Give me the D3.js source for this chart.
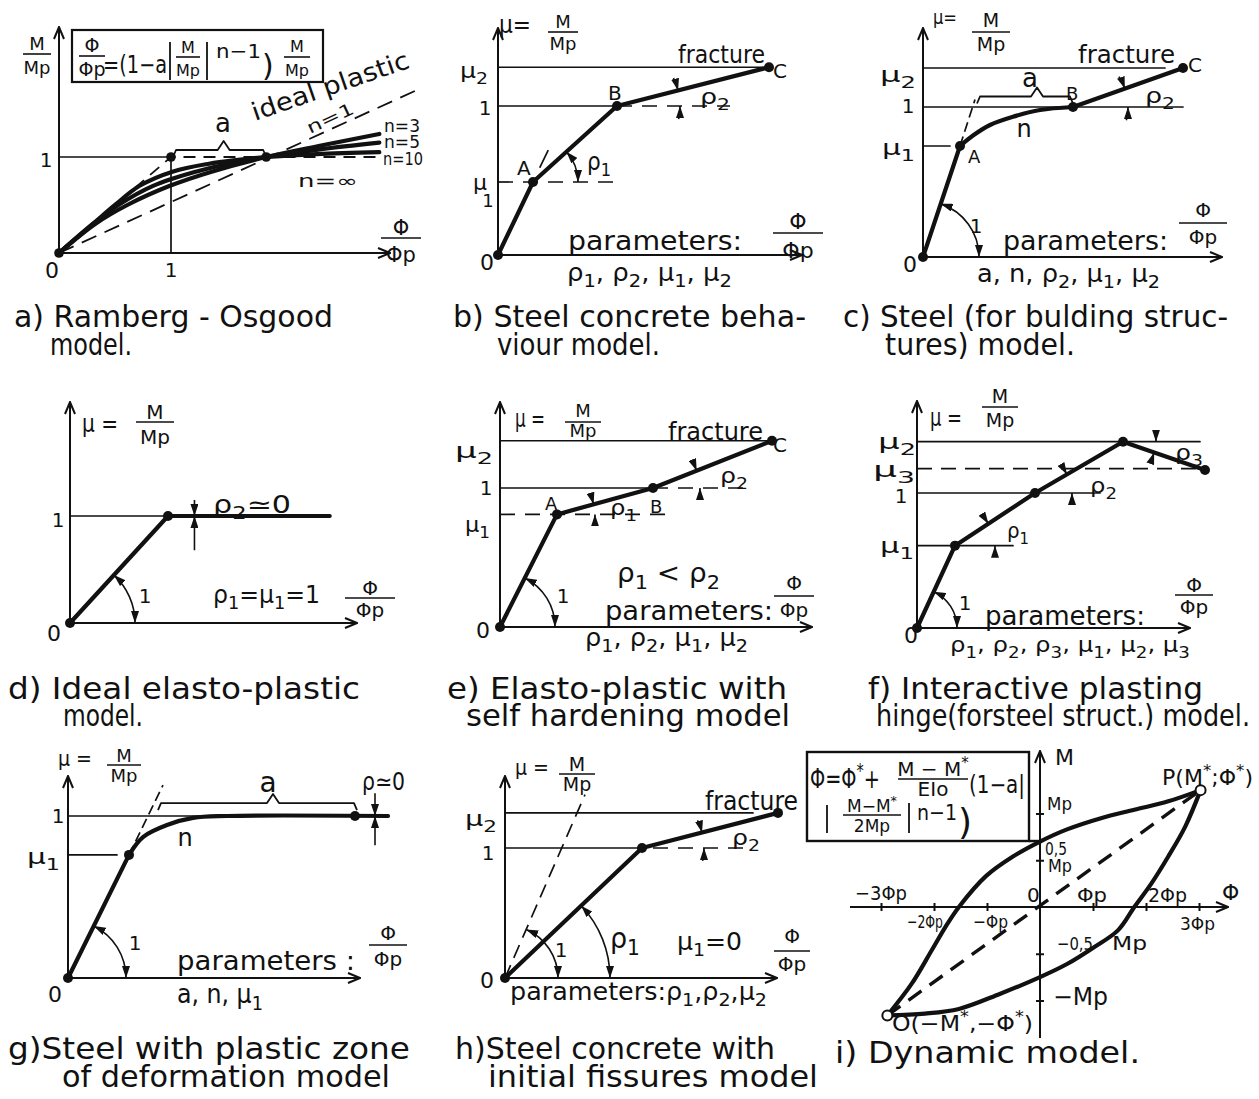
<!DOCTYPE html>
<html>
<head>
<meta charset="utf-8">
<script src="https://cdn.jsdelivr.net/npm/d3@7"></script>
<style>
  body { margin: 0; background: #fff; }
  svg text { font-family: "DejaVu Sans", sans-serif; fill: #111; }
</style>
</head>
<body>
<script>
const W = 1259, H = 1099;
const INK = "#111", THIN = 1.7, THICK = 4.2, CAP = 30;

// ---- data (x = phi/phip, y = M/Mp) ----
// a) Ramberg-Osgood
const roN3 = [[0,0],[0.32,0.3],[0.61,0.5],[0.99,0.7],[1.37,0.85],[1.85,1],[2.34,1.12],[2.86,1.24]];
const roN5 = [[0,0],[0.3,0.3],[0.53,0.5],[0.84,0.7],[1.23,0.85],[1.52,0.93],[1.85,1],[2.33,1.08],[2.86,1.15]];
const roN10 = [[0,0],[0.3,0.3],[0.5,0.5],[0.72,0.7],[1.02,0.85],[1.34,0.93],[1.6,0.97],[1.85,1],[2.3,1.03],[2.86,1.05]];
const roN1 = [[0,0],[3.2,1.7]];
const roIdeal = [[0,0],[1,1],[2.86,1]];
const roDots = [[0,0],[1,1],[1.85,1]];
// b) steel concrete
const bPath = [[0,0],[0.35,0.49],[1.19,1],[2.71,1.26]];
const bMu = [0.49, 1, 1.26];
// c) steel for building structures
const cLine = [[0,0],[0.37,0.74]];
const cCurve = [[0.37,0.74],[0.5,0.81],[0.67,0.88],[0.9,0.935],[1.17,0.98],[1.5,1]];
const cTail = [[1.5,1],[2.6,1.26]];
const cMu = [0.74, 1, 1.26];
// d) ideal elasto-plastic
const dPath = [[0,0],[1,1],[2.65,1]];
// e) elasto-plastic with hardening
const ePath = [[0,0],[0.57,0.81],[1.53,1],[2.72,1.34]];
const eMu = [0.81, 1, 1.34];
// f) interactive plastic hinge
const fPath = [[0,0],[0.38,0.61],[1.18,1],[2.06,1.38],[2.88,1.17]];
const fMu = [0.61, 1, 1.18, 1.38];
// g) plastic zone
const gLine = [[0,0],[0.61,0.76]];
const gCurve = [[0.61,0.76],[0.75,0.87],[0.99,0.944],[1.25,0.988],[1.59,1],[3.2,1]];
const gEnd = [2.87, 1];
// h) initial fissures
const hPath = [[0,0],[1.37,1],[2.73,1.27]];
const hElastic = [[0,0],[0.8,1.41]];
// i) dynamic model (x = phi/phip, y = M/Mp)
const iUpper = [[-2.88,-1.16],[-2.42,-0.82],[-2.04,-0.46],[-1.78,-0.21],[-1.53,0],[-1.02,0.33],[-0.51,0.54],[0,0.70],[0.51,0.83],[1.15,0.95],[1.78,1.04],[2.42,1.13],[3.03,1.25]];
const iLower = [[-2.88,-1.16],[-2.17,-1.14],[-1.53,-1.09],[-0.76,-0.93],[0,-0.75],[0.51,-0.61],[1.02,-0.43],[1.47,-0.25],[1.78,0],[2.10,0.25],[2.42,0.54],[2.74,0.86],[3.03,1.25]];
const iChord = [[-2.88,-1.16],[3.03,1.25]];
const iTicksX = [-3,-2,-1,1,2,3];
const iTicksY = [-1,-0.5,0.5,1];

// ---- layout: origin and unit of each small diagram (pixels) ----
const L = {
  a: {ox:59,  oy:253, ux:112, uy:96,  xe:390,  yt:27},
  b: {ox:498, oy:255, ux:100, uy:149, xe:802,  yt:28},
  c: {ox:923, oy:257, ux:100, uy:150, xe:1222, yt:28},
  d: {ox:70,  oy:623, ux:98,  uy:107, xe:357,  yt:402},
  e: {ox:500, oy:627, ux:100, uy:139, xe:812,  yt:402},
  f: {ox:917, oy:628, ux:100, uy:135, xe:1190, yt:401},
  g: {ox:68,  oy:978, ux:100, uy:162, xe:360,  yt:776},
  h: {ox:505, oy:978, ux:100, uy:130, xe:777,  yt:776},
  i: {ox:1040,oy:907, ux:53,  uy:93.5}
};

const svg = d3.select("body").append("svg").attr("width", W).attr("height", H);
svg.append("rect").attr("width", W).attr("height", H).attr("fill", "#fff");
const defs = svg.append("defs");
defs.append("marker").attr("id", "ax").attr("viewBox", "0 0 14 12").attr("refX", 13).attr("refY", 6)
  .attr("markerWidth", 14).attr("markerHeight", 12).attr("markerUnits", "userSpaceOnUse").attr("orient", "auto")
  .append("path").attr("d", "M1,1 L13,6 L1,11").attr("fill", "none").attr("stroke", INK).attr("stroke-width", 2);
defs.append("marker").attr("id", "dim").attr("viewBox", "0 0 12 8").attr("refX", 12).attr("refY", 4)
  .attr("markerWidth", 12).attr("markerHeight", 8).attr("markerUnits", "userSpaceOnUse").attr("orient", "auto-start-reverse")
  .append("path").attr("d", "M0,0 L12,4 L0,8 Z").attr("fill", INK);

function scales(k) {
  const l = L[k];
  return {
    x: d3.scaleLinear().domain([0, 1]).range([l.ox, l.ox + l.ux]),
    y: d3.scaleLinear().domain([0, 1]).range([l.oy, l.oy - l.uy])
  };
}

function seg(g, pts, s, w, dash, curve) {
  const ln = d3.line().x(d => s.x(d[0])).y(d => s.y(d[1]));
  if (curve) ln.curve(curve);
  const p = g.append("path").attr("d", ln(pts)).attr("fill", "none").attr("stroke", INK)
    .attr("stroke-width", w).attr("stroke-linejoin", "round").attr("stroke-linecap", dash ? "butt" : "round");
  if (dash) p.attr("stroke-dasharray", dash);
  return p;
}
function hline(g, s, y, x0, x1, dash) { return seg(g, [[x0, y], [x1, y]], s, THIN, dash); }

function dots(g, s, pts, r) {
  g.selectAll(null).data(pts).enter().append("circle")
    .attr("cx", d => s.x(d[0])).attr("cy", d => s.y(d[1])).attr("r", r).attr("fill", INK);
}

function axes(g, s, l) {
  g.append("line").attr("x1", s.x(0)).attr("y1", s.y(0)).attr("x2", l.xe).attr("y2", s.y(0))
    .attr("stroke", INK).attr("stroke-width", 2).attr("marker-end", "url(#ax)");
  g.append("line").attr("x1", s.x(0)).attr("y1", s.y(0)).attr("x2", s.x(0)).attr("y2", l.yt)
    .attr("stroke", INK).attr("stroke-width", 2).attr("marker-end", "url(#ax)");
}

// text with _x subscripts and ^x superscripts
function rich(g, x, y, str, size, o = {}) {
  const t = g.append("text").attr("x", x).attr("y", y).attr("font-size", size);
  if (o.anchor) t.attr("text-anchor", o.anchor);
  if (o.len) t.attr("textLength", o.len).attr("lengthAdjust", "spacingAndGlyphs");
  if (o.rot) t.attr("transform", `rotate(${o.rot},${x},${y})`);
  const parts = [];
  let buf = "";
  for (let i = 0; i < str.length; i++) {
    const c = str[i];
    if ((c === "_" || c === "^") && i + 1 < str.length) {
      if (buf) parts.push({ s: buf, k: 0 });
      buf = "";
      parts.push({ s: str[i + 1], k: c === "_" ? 1 : -1 });
      i++;
    } else buf += c;
  }
  if (buf) parts.push({ s: buf, k: 0 });
  let shift = 0;
  parts.forEach(p => {
    const target = p.k === 1 ? size * 0.25 : p.k === -1 ? -size * 0.42 : 0;
    const ts = t.append("tspan").attr("dy", target - shift).text(p.s);
    if (p.k !== 0) ts.attr("font-size", size * 0.75);
    shift = target;
  });
  return t;
}

function frac(g, cx, ly, hw, top, bot, size, topY, botY) {
  rich(g, cx, topY, top, size, { anchor: "middle" });
  g.append("line").attr("x1", cx - hw).attr("x2", cx + hw).attr("y1", ly).attr("y2", ly)
    .attr("stroke", INK).attr("stroke-width", 1.6);
  rich(g, cx, botY, bot, size, { anchor: "middle" });
}

function bar(g, x, y0, y1) {
  g.append("line").attr("x1", x).attr("x2", x).attr("y1", y0).attr("y2", y1).attr("stroke", INK).attr("stroke-width", 1.8);
}

// angle helpers (degrees, counter-clockwise, screen y down)
function ang(s, p, q) {
  return Math.atan2(s.y(p[1]) - s.y(q[1]), s.x(q[0]) - s.x(p[0])) * 180 / Math.PI;
}
function pt(c, r, a) {
  const t = a * Math.PI / 180;
  return [c[0] + r * Math.cos(t), c[1] - r * Math.sin(t)];
}
function angleOut(g, s, p, r, a1, a2) {
  const c = [s.x(p[0]), s.y(p[1])], p1 = pt(c, r, a1), p2 = pt(c, r, a2);
  g.append("path").attr("d", `M${p1}A${r},${r} 0 0 1 ${p2}`).attr("fill", "none")
    .attr("stroke", INK).attr("stroke-width", 1.6)
    .attr("marker-start", "url(#dim)").attr("marker-end", "url(#dim)");
}
function angleIn(g, s, p, r, a1, a2, ext) {
  const c = [s.x(p[0]), s.y(p[1])];
  const q1 = pt(c, r, a1 + ext), p1 = pt(c, r, a1), q2 = pt(c, r, a2 - ext), p2 = pt(c, r, a2);
  g.append("path").attr("d", `M${q1}A${r},${r} 0 0 1 ${p1}`).attr("fill", "none")
    .attr("stroke", INK).attr("stroke-width", 1.6).attr("marker-end", "url(#dim)");
  g.append("path").attr("d", `M${q2}A${r},${r} 0 0 0 ${p2}`).attr("fill", "none")
    .attr("stroke", INK).attr("stroke-width", 1.6).attr("marker-end", "url(#dim)");
}
function vArrow(g, s, x, yFrom, yTo) {
  g.append("line").attr("x1", s.x(x)).attr("x2", s.x(x)).attr("y1", s.y(yFrom)).attr("y2", s.y(yTo))
    .attr("stroke", INK).attr("stroke-width", 1.6).attr("marker-end", "url(#dim)");
}
function brace(g, x0, x1, y, xm) {
  g.append("path").attr("d", `M${x0},${y + 7} L${x0 + 3},${y} H${xm - 6} L${xm},${y - 9} L${xm + 6},${y} H${x1 - 3} L${x1},${y + 7}`)
    .attr("fill", "none").attr("stroke", INK).attr("stroke-width", 1.8).attr("stroke-linejoin", "round");
}

// ================= a) Ramberg-Osgood =================
{
  const s = scales("a"), g = svg.append("g");
  axes(g, s, L.a);
  hline(g, s, 1, 0, 1);
  seg(g, [[1, 0], [1, 1]], s, THIN);
  seg(g, roIdeal, s, 1.8, "12,8");
  seg(g, roN1, s, 1.8, "16,9");
  [roN3, roN5, roN10].forEach(c => seg(g, c, s, THICK, null, d3.curveCatmullRom));
  dots(g, s, roDots, 4.8);
  brace(g, s.x(1) + 2, s.x(1.85), s.y(1) - 7, s.x(1.47));
  // formula box
  g.append("rect").attr("x", 72).attr("y", 30).attr("width", 251).attr("height", 52)
    .attr("fill", "none").attr("stroke", INK).attr("stroke-width", 2.2);
  frac(g, 92, 56, 13, "Φ", "Φp", 19, 52, 76);
  rich(g, 103, 73, "=(1−a", 24, { len: 64 });
  bar(g, 170, 42, 80);
  frac(g, 188, 57, 12, "M", "Mp", 16, 53, 76);
  bar(g, 207, 42, 80);
  rich(g, 216, 58, "n−1", 20, { len: 45 });
  rich(g, 262, 76, ")", 30);
  frac(g, 297, 57, 13, "M", "Mp", 16, 52, 76);
  // axis labels
  frac(g, 37, 54, 14, "M", "Mp", 18, 50, 74);
  frac(g, 401, 238, 20, "Φ", "Φp", 21, 235, 262);
  rich(g, 52, 278, "0", 22, { anchor: "middle" });
  rich(g, s.x(1), 277, "1", 20, { anchor: "middle" });
  rich(g, 46, 167, "1", 20, { anchor: "middle" });
  rich(g, 223, 132, "a", 26, { anchor: "middle" });
  rich(g, 255, 121, "ideal plastic", 25, { len: 165, rot: -19 });
  rich(g, 310, 134, "n=1", 17, { len: 50, rot: -25 });
  rich(g, 384, 132, "n=3", 17, { len: 36 });
  rich(g, 384, 148, "n=5", 17, { len: 36 });
  rich(g, 383, 165, "n=10", 17, { len: 40 });
  rich(g, 298, 187, "n=∞", 17, { len: 60 });
  rich(g, 14, 327, "a) Ramberg - Osgood", CAP, { len: 319 });
  rich(g, 50, 355, "model.", CAP, { len: 82 });
}

// ================= b) Steel concrete =================
{
  const s = scales("b"), g = svg.append("g");
  axes(g, s, L.b);
  const [A, B, C] = [bPath[1], bPath[2], bPath[3]];
  hline(g, s, bMu[2], 0, C[0]);
  hline(g, s, bMu[1], 0, B[0]);
  hline(g, s, bMu[1], B[0], 2.32, "15,10");
  hline(g, s, bMu[0], 0, 1.15, "15,10");
  seg(g, [[0.42, 0.59], [0.5, 0.7]], s, THIN);
  seg(g, bPath, s, THICK);
  dots(g, s, bPath, 5);
  angleOut(g, s, A, 45, ang(s, A, B), 0);
  angleIn(g, s, B, 63, ang(s, B, C), 0, 12);
  rich(g, 499, 33, "μ=", 24, { len: 32 });
  frac(g, 563, 32, 15, "M", "Mp", 18, 28, 50);
  rich(g, 678, 63, "fracture", 24, { len: 87 });
  rich(g, 773, 78, "C", 20);
  rich(g, 608, 100, "B", 20);
  rich(g, 517, 175, "A", 20);
  rich(g, 700, 104, "ρ_2", 22, { len: 30 });
  rich(g, 587, 170, "ρ_1", 24, { len: 24 });
  rich(g, 460, 78, "μ_2", 22, { len: 28 });
  rich(g, 485, 115, "1", 20, { anchor: "middle" });
  rich(g, 473, 190, "μ", 22);
  rich(g, 488, 207, "1", 18, { anchor: "middle" });
  rich(g, 487, 270, "0", 22, { anchor: "middle" });
  rich(g, 568, 250, "parameters:", 26, { len: 174 });
  rich(g, 567, 281, "ρ_1, ρ_2, μ_1, μ_2", 24, { len: 165 });
  frac(g, 798, 233, 25, "Φ", "Φp", 22, 229, 258);
  rich(g, 453, 327, "b) Steel concrete beha-", CAP, { len: 353 });
  rich(g, 497, 355, "viour model.", CAP, { len: 163 });
}

// ================= c) Steel (building structures) =================
{
  const s = scales("c"), g = svg.append("g");
  axes(g, s, L.c);
  const A = cLine[1], B = cTail[0], C = cTail[1];
  hline(g, s, cMu[2], 0, 2.42);
  hline(g, s, cMu[1], 0, 2.6);
  hline(g, s, cMu[0], 0, 0.27);
  seg(g, [A, [0.52, 1.05]], s, THIN, "10,5");
  seg(g, cLine, s, THICK);
  seg(g, cCurve, s, THICK, null, d3.curveCatmullRom);
  seg(g, cTail, s, THICK);
  dots(g, s, [[0, 0], A, B, C], 5);
  brace(g, s.x(0.54), s.x(1.5), s.y(1.07), s.x(1.14));
  angleIn(g, s, B, 55, ang(s, B, C), 0, 14);
  angleOut(g, s, [0, 0], 56, ang(s, [0, 0], A), 0);
  rich(g, 933, 24, "μ=", 20, { len: 24 });
  frac(g, 991, 32, 19, "M", "Mp", 19, 27, 51);
  rich(g, 1078, 63, "fracture", 24, { len: 97 });
  rich(g, 1188, 72, "C", 20);
  rich(g, 1066, 100, "B", 18);
  rich(g, 968, 163, "A", 18);
  rich(g, 1030, 87, "a", 26, { anchor: "middle" });
  rich(g, 1024, 137, "n", 24, { anchor: "middle" });
  rich(g, 1145, 103, "ρ_2", 22, { len: 30 });
  rich(g, 976, 233, "1", 20, { anchor: "middle" });
  rich(g, 880, 82, "μ_2", 22, { len: 36 });
  rich(g, 908, 113, "1", 20, { anchor: "middle" });
  rich(g, 882, 155, "μ_1", 22, { len: 33 });
  rich(g, 910, 272, "0", 22, { anchor: "middle" });
  rich(g, 1003, 250, "parameters:", 26, { len: 165 });
  rich(g, 977, 282, "a, n, ρ_2, μ_1, μ_2", 24, { len: 183 });
  frac(g, 1203, 223, 24, "Φ", "Φp", 20, 217, 244);
  rich(g, 843, 327, "c) Steel (for bulding struc-", CAP, { len: 385 });
  rich(g, 885, 355, "tures) model.", CAP, { len: 190 });
}

// ================= d) Ideal elasto-plastic =================
{
  const s = scales("d"), g = svg.append("g");
  axes(g, s, L.d);
  hline(g, s, 1, 0, 1);
  seg(g, dPath, s, THICK);
  dots(g, s, [dPath[0], dPath[1]], 5);
  vArrow(g, s, 1.27, 1.15, 1);
  vArrow(g, s, 1.27, 0.68, 1);
  angleOut(g, s, [0, 0], 65, ang(s, [0, 0], dPath[1]), 0);
  rich(g, 82, 432, "μ =", 24, { len: 36 });
  frac(g, 155, 422, 19, "M", "Mp", 20, 419, 444);
  rich(g, 213, 513, "ρ_2≃0", 24, { len: 78 });
  rich(g, 145, 603, "1", 20, { anchor: "middle" });
  rich(g, 213, 603, "ρ_1=μ_1=1", 24, { len: 107 });
  rich(g, 58, 527, "1", 20, { anchor: "middle" });
  rich(g, 54, 641, "0", 22, { anchor: "middle" });
  frac(g, 370, 598, 25, "Φ", "Φp", 20, 595, 617);
  rich(g, 8, 699, "d) Ideal elasto-plastic", CAP, { len: 352 });
  rich(g, 63, 726, "model.", CAP, { len: 80 });
}

// ================= e) Elasto-plastic with hardening =================
{
  const s = scales("e"), g = svg.append("g");
  axes(g, s, L.e);
  const [O, A, B, C] = ePath;
  hline(g, s, eMu[2], 0, C[0]);
  hline(g, s, eMu[1], 0, B[0]);
  hline(g, s, eMu[1], B[0], 2.53, "15,10");
  hline(g, s, eMu[0], 0, 1.73, "15,10");
  seg(g, ePath, s, THICK);
  dots(g, s, ePath, 5);
  angleIn(g, s, A, 38, ang(s, A, B), 0, 13);
  angleIn(g, s, B, 47, ang(s, B, C), 0, 12);
  angleOut(g, s, O, 55, ang(s, O, A), 0);
  rich(g, 515, 427, "μ =", 24, { len: 30 });
  frac(g, 583, 422, 18, "M", "Mp", 18, 417, 437);
  rich(g, 668, 440, "fracture", 24, { len: 95 });
  rich(g, 773, 452, "C", 20);
  rich(g, 545, 510, "A", 18);
  rich(g, 650, 513, "B", 18);
  rich(g, 610, 515, "ρ_1", 22, { len: 27 });
  rich(g, 720, 483, "ρ_2", 22, { len: 28 });
  rich(g, 563, 603, "1", 20, { anchor: "middle" });
  rich(g, 617, 582, "ρ_1 < ρ_2", 26, { len: 103 });
  rich(g, 605, 620, "parameters:", 26, { len: 168 });
  rich(g, 585, 646, "ρ_1, ρ_2, μ_1, μ_2", 24, { len: 163 });
  frac(g, 794, 596, 20, "Φ", "Φp", 20, 590, 617);
  rich(g, 455, 458, "μ_2", 22, { len: 38 });
  rich(g, 486, 495, "1", 20, { anchor: "middle" });
  rich(g, 465, 532, "μ_1", 22, { len: 25 });
  rich(g, 483, 638, "0", 22, { anchor: "middle" });
  rich(g, 447, 699, "e) Elasto-plastic with", CAP, { len: 340 });
  rich(g, 466, 726, "self hardening model", CAP, { len: 324 });
}

// ================= f) Interactive plastic hinge =================
{
  const s = scales("f"), g = svg.append("g");
  axes(g, s, L.f);
  const [O, P1, P2, P3, P4] = fPath;
  hline(g, s, fMu[3], 0, 2.83);
  hline(g, s, fMu[2], 0, 2.83, "15,9");
  hline(g, s, fMu[1], 0, 1.83);
  hline(g, s, fMu[0], 0, 0.96);
  seg(g, fPath, s, THICK);
  dots(g, s, fPath, 5);
  angleIn(g, s, P1, 40, ang(s, P1, P2), 0, 12);
  angleIn(g, s, P2, 37, ang(s, P2, P3), 0, 12);
  angleIn(g, s, P3, 33, 0, ang(s, P3, P4), 14);
  angleOut(g, s, O, 40, ang(s, O, P1), 0);
  rich(g, 930, 426, "μ =", 24, { len: 32 });
  frac(g, 1000, 407, 18, "M", "Mp", 19, 403, 427);
  rich(g, 1007, 538, "ρ_1", 22, { len: 22 });
  rich(g, 1090, 493, "ρ_2", 22, { len: 27 });
  rich(g, 1175, 460, "ρ_3", 22, { len: 28 });
  rich(g, 965, 610, "1", 20, { anchor: "middle" });
  rich(g, 985, 625, "parameters:", 26, { len: 160 });
  rich(g, 950, 652, "ρ_1, ρ_2, ρ_3, μ_1, μ_2, μ_3", 22, { len: 240 });
  frac(g, 1194, 595, 19, "Φ", "Φp", 20, 592, 614);
  rich(g, 878, 449, "μ_2", 22, { len: 38 });
  rich(g, 873, 477, "μ_3", 22, { len: 42 });
  rich(g, 901, 503, "1", 20, { anchor: "middle" });
  rich(g, 880, 553, "μ_1", 22, { len: 34 });
  rich(g, 911, 643, "0", 22, { anchor: "middle" });
  rich(g, 868, 699, "f) Interactive plasting", CAP, { len: 335 });
  rich(g, 876, 726, "hinge(forsteel struct.) model.", CAP, { len: 374 });
}

// ================= g) Plastic zone =================
{
  const s = scales("g"), g = svg.append("g");
  axes(g, s, L.g);
  const P = gLine[1];
  hline(g, s, 1, 0, 1.6);
  hline(g, s, P[1], 0, 0.49);
  seg(g, [P, [0.95, 1.19]], s, THIN, "10,5");
  seg(g, gLine, s, THICK);
  seg(g, gCurve, s, THICK, null, d3.curveCatmullRom);
  dots(g, s, [[0, 0], P, gEnd], 5);
  brace(g, s.x(0.9), s.x(2.89), s.y(1.08), s.x(2.05));
  vArrow(g, s, 3.07, 1.14, 1);
  vArrow(g, s, 3.07, 0.82, 1);
  angleOut(g, s, [0, 0], 58, ang(s, [0, 0], P), 0);
  rich(g, 58, 766, "μ =", 22, { len: 34 });
  frac(g, 124, 765, 17, "M", "Mp", 18, 762, 782);
  rich(g, 268, 792, "a", 28, { anchor: "middle" });
  rich(g, 362, 790, "ρ≃0", 24, { len: 43 });
  rich(g, 185, 846, "n", 24, { anchor: "middle" });
  rich(g, 135, 950, "1", 20, { anchor: "middle" });
  rich(g, 177, 970, "parameters :", 26, { len: 178 });
  rich(g, 177, 1003, "a, n, μ_1", 26, { len: 86 });
  frac(g, 388, 945, 19, "Φ", "Φp", 20, 940, 966);
  rich(g, 58, 823, "1", 20, { anchor: "middle" });
  rich(g, 27, 864, "μ_1", 22, { len: 33 });
  rich(g, 55, 1002, "0", 22, { anchor: "middle" });
  rich(g, 8, 1059, "g)Steel with plastic zone", CAP, { len: 402 });
  rich(g, 62, 1087, "of deformation model", CAP, { len: 328 });
}

// ================= h) Initial fissures =================
{
  const s = scales("h"), g = svg.append("g");
  axes(g, s, L.h);
  const [O, P, C] = hPath;
  hline(g, s, C[1], 0, 2.48);
  hline(g, s, 1, 0, P[0]);
  hline(g, s, 1, 1.48, 2.48, "15,10");
  seg(g, hElastic, s, THIN, "14,8");
  seg(g, hPath, s, THICK);
  dots(g, s, hPath, 5);
  angleOut(g, s, O, 105, ang(s, O, P), 0);
  angleOut(g, s, O, 53, ang(s, O, hElastic[1]), 0);
  angleIn(g, s, P, 62, ang(s, P, C), 0, 12);
  rich(g, 515, 775, "μ =", 22, { len: 34 });
  frac(g, 577, 774, 18, "M", "Mp", 19, 771, 791);
  rich(g, 705, 810, "fracture", 26, { len: 93 });
  rich(g, 610, 948, "ρ_1", 28, { len: 30 });
  rich(g, 561, 957, "1", 20, { anchor: "middle" });
  rich(g, 732, 845, "ρ_2", 22, { len: 28 });
  rich(g, 677, 950, "μ_1=0", 24, { len: 65 });
  rich(g, 510, 1000, "parameters:ρ_1,ρ_2,μ_2", 24, { len: 257 });
  frac(g, 792, 951, 18, "Φ", "Φp", 20, 943, 971);
  rich(g, 465, 826, "μ_2", 22, { len: 32 });
  rich(g, 488, 860, "1", 20, { anchor: "middle" });
  rich(g, 487, 988, "0", 22, { anchor: "middle" });
  rich(g, 455, 1059, "h)Steel concrete with", CAP, { len: 320 });
  rich(g, 488, 1087, "initial fissures model", CAP, { len: 330 });
}

// ================= i) Dynamic model =================
{
  const s = scales("i"), g = svg.append("g");
  g.append("line").attr("x1", 850).attr("y1", s.y(0)).attr("x2", 1228).attr("y2", s.y(0))
    .attr("stroke", INK).attr("stroke-width", 2).attr("marker-end", "url(#ax)");
  g.append("line").attr("x1", s.x(0)).attr("y1", 1038).attr("x2", s.x(0)).attr("y2", 751)
    .attr("stroke", INK).attr("stroke-width", 2).attr("marker-end", "url(#ax)");
  g.append("g").attr("transform", `translate(0,${s.y(0) - 4})`)
    .call(d3.axisBottom(s.x).tickValues(iTicksX).tickSize(8).tickSizeOuter(0).tickFormat(""))
    .call(a => { a.select(".domain").remove(); a.selectAll("line").attr("stroke", INK).attr("stroke-width", 2); });
  g.append("g").attr("transform", `translate(${s.x(0) + 4},0)`)
    .call(d3.axisLeft(s.y).tickValues(iTicksY).tickSize(8).tickSizeOuter(0).tickFormat(""))
    .call(a => { a.select(".domain").remove(); a.selectAll("line").attr("stroke", INK).attr("stroke-width", 2); });
  seg(g, iChord, s, 3.4, "16,10");
  seg(g, iUpper, s, THICK, null, d3.curveCatmullRom);
  seg(g, iLower, s, THICK, null, d3.curveCatmullRom);
  g.selectAll(null).data([iChord[0], iChord[1]]).enter().append("circle")
    .attr("cx", d => s.x(d[0])).attr("cy", d => s.y(d[1])).attr("r", 5)
    .attr("fill", "#fff").attr("stroke", INK).attr("stroke-width", 2);
  // formula box
  g.append("rect").attr("x", 807).attr("y", 752).attr("width", 222).attr("height", 89)
    .attr("fill", "none").attr("stroke", INK).attr("stroke-width", 2.4);
  g.append("line").attr("x1", 1029).attr("x2", s.x(0)).attr("y1", 841).attr("y2", 841)
    .attr("stroke", INK).attr("stroke-width", 2.4);
  rich(g, 810, 788, "Φ=Φ^*+", 26, { len: 70 });
  frac(g, 933, 779, 35, "M − M^*", "EIo", 20, 776, 796);
  rich(g, 969, 793, "(1−a|", 24, { len: 56 });
  bar(g, 827, 805, 833);
  frac(g, 872, 815, 29, "M−M^*", "2Mp", 17, 812, 832);
  bar(g, 909, 803, 833);
  rich(g, 917, 820, "n−1", 22, { len: 40 });
  rich(g, 958, 834, ")", 36);
  rich(g, 1055, 765, "M", 22);
  rich(g, 1047, 810, "Mp", 18, { len: 25 });
  rich(g, 1045, 855, "0,5", 17, { len: 22 });
  rich(g, 1048, 872, "Mp", 17, { len: 24 });
  rich(g, 855, 900, "−3Φp", 20, { len: 52 });
  rich(g, 1027, 902, "0", 20);
  rich(g, 1077, 902, "Φp", 20, { len: 30 });
  rich(g, 1148, 902, "2Φp", 20, { len: 39 });
  rich(g, 1222, 900, "Φ", 22);
  rich(g, 907, 928, "−2Φp", 18, { len: 36 });
  rich(g, 973, 928, "−Φp", 18, { len: 35 });
  rich(g, 1180, 930, "3Φp", 18, { len: 35 });
  rich(g, 1057, 950, "−0,5", 18, { len: 36 });
  rich(g, 1112, 950, "Mp", 20, { len: 35 });
  rich(g, 1053, 1005, "−Mp", 24, { len: 55 });
  rich(g, 1162, 785, "P(M^*;Φ^*)", 22, { len: 91 });
  rich(g, 892, 1031, "O(−M^*,−Φ^*)", 21, { len: 141 });
  rich(g, 835, 1063, "i) Dynamic model.", CAP, { len: 305 });
}
</script>
</body>
</html>
